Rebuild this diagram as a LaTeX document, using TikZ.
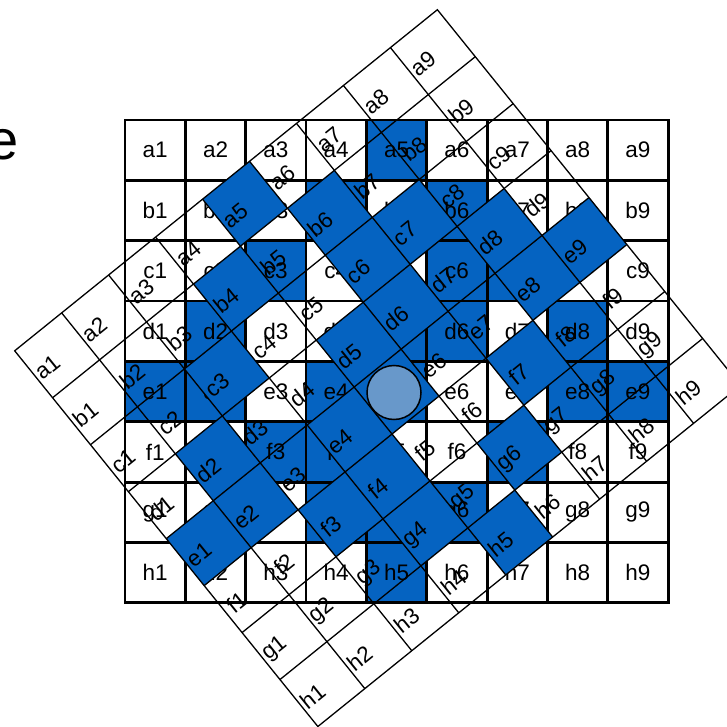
\documentclass[tikz,border=0pt]{standalone}
\usepackage{fontspec}
\setmainfont{Liberation Sans}
\definecolor{cellblue}{RGB}{5,99,193}
\definecolor{pinblue}{RGB}{104,152,202}
\newcommand{\cs}{60.35}
% #1 blue cells, #2 line width, #3/#4 label offset, #5 name prefix
\newcommand{\board}[5]{%
  \foreach \row/\col in {#1}
    \fill[cellblue] ({\col*\cs},{-\row*\cs}) rectangle ++(\cs,-\cs);
  \foreach \k in {1,...,8} \draw[line width=#2] ({\k*\cs},0) -- ({\k*\cs},{-8*\cs});
  \foreach \k in {1,...,7} \draw[line width=#2] (0,{-\k*\cs}) -- ({9*\cs},{-\k*\cs});
  \draw[line width=#2] (0,0) rectangle ({9*\cs},{-8*\cs});
  \foreach \row/\rl in {0/a,1/b,2/c,3/d,4/e,5/f,6/g,7/h}
    \foreach \col in {1,...,9}
      \node[lbl] (#5-\rl\col) at ({\col*\cs-0.5*\cs+#3},{-\row*\cs-0.5*\cs+#4}) {\rl\col};
}

\begin{document}
\begin{tikzpicture}[x=1pt,y=1pt,
    lbl/.style={inner sep=0pt,font=\fontsize{22.5}{24}\selectfont}]
  \useasboundingbox (0,0) rectangle (726,-727);
  \coordinate (pivot) at (396.6,-391.6);
  % straight board
  \begin{scope}[shift={(125,-120)}]
    \board{0/4,1/3,1/5,2/2,2/5,2/6,3/1,3/4,3/5,3/7,4/0,4/1,4/3,4/4,4/7,4/8,5/2,5/3,5/6,6/3,6/4,6/5,7/4}{2.8pt}{0}{0}{ax}
  \end{scope}
  % turned board
  \begin{scope}[rotate around={38.9:(pivot)}]
    \begin{scope}[shift={(125,-120)},transform shape]
      \board{0/4,1/3,1/5,2/2,2/5,2/6,3/1,3/4,3/5,3/7,4/0,4/1,4/3,4/4,4/7,4/8,5/2,5/3,5/6,6/3,6/5,7/4}{1.3pt}{-15}{-3}{rt}
    \end{scope}
  \end{scope}
  \node[circle,draw,line width=1.5pt,fill=pinblue,minimum size=54pt,inner sep=0pt] (pin) at (394,-392.5) {};
  \node[anchor=base east,inner sep=0pt,font=\fontsize{56}{60}\selectfont] (word) at (19.2,-159.5) {e};
\end{tikzpicture}
\end{document}
